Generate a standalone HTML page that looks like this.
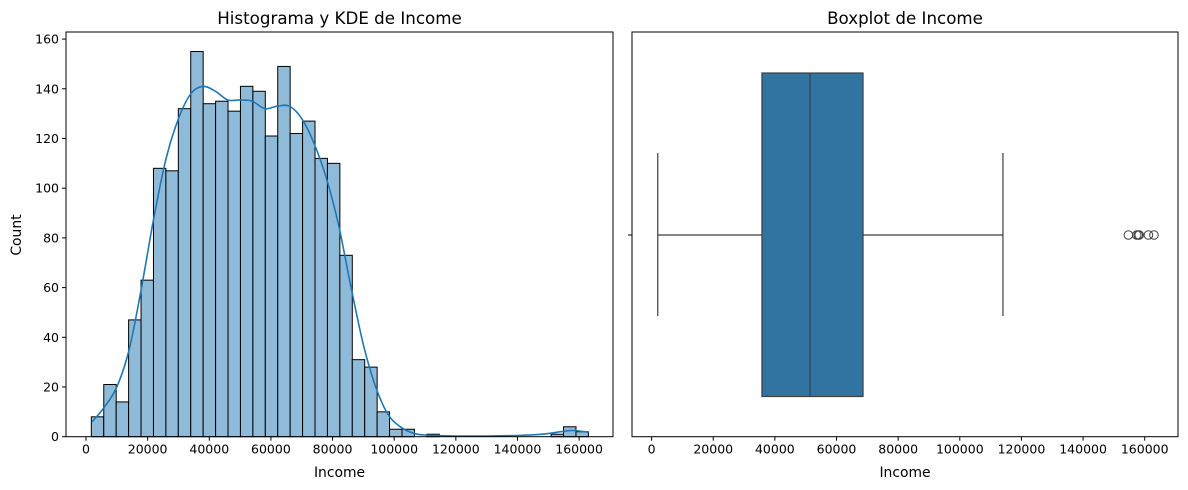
<!DOCTYPE html>
<html><head><meta charset="utf-8"><style>
body{margin:0;background:#fff;}
svg{display:block;font-family:"DejaVu Sans","Liberation Sans",sans-serif;}
</style></head><body>
<svg id="fig" width="1188" height="490" viewBox="0 0 1188 490"></svg>
<script>
const histCounts=[8,21,14,47,63,108,107,132,155,134,135,131,141,139,121,149,122,127,112,110,73,31,28,10,3,3,0,1,0,0,0,0,0,0,0,0,0,1,4,2];
const binStart=1730;
const binWidth=4032;
const kdeX=[2000,6000,10000,14000,18000,22000,26000,30000,34000,38000,42000,46000,50000,54000,58000,62000,66000,70000,74000,78000,82000,86000,90000,94000,98000,102000,106000,110000,120000,130000,140000,148000,154000,158000,163000];
const kdeY=[6,12,20,35,60,88,112,128,138,141,139,135.5,135.5,135,132,133,133,128,118,104,85,60,37,20,9,4,1.5,0.7,0.3,0.3,0.5,1,2,2.5,1.8];
const xTicks=[0,20000,40000,60000,80000,100000,120000,140000,160000];
const yTicks=[0,20,40,60,80,100,120,140,160];
const boxStats={whiskLo:2000,q1:35800,median:51400,q3:68600,whiskHi:114000};
const outliers=[154700,157400,157900,158200,161200,163000];

const NS="http://www.w3.org/2000/svg";
const svg=document.getElementById('fig');
function mk(tag,attrs,parent,txt){const e=document.createElementNS(NS,tag);for(const k in attrs)e.setAttribute(k,attrs[k]);if(txt!==undefined)e.textContent=txt;(parent||svg).appendChild(e);return e;}
const TF=12.5, LF=13.9, HF=16.7;

// left axes
const L={x0:66,x1:613,y0:32,y1:436.7};
const xL=v=>86+v*0.003082;
const yL=v=>436.7-v*2.485;
const gL=mk('g',{});


histCounts.forEach((c,i)=>{
  if(c<=0)return;
  const a=xL(binStart+i*binWidth),b=xL(binStart+(i+1)*binWidth);
  const r=mk('rect',{x:a,y:yL(c),width:b-a,height:yL(0)-yL(c),fill:'#8fbbd9',stroke:'#000','stroke-width':1},gL);
  
  
});
// smooth Catmull-Rom path
const pts=kdeX.map((x,i)=>[xL(x),yL(kdeY[i])]);
let d='M'+pts[0][0].toFixed(1)+','+pts[0][1].toFixed(1);
for(let i=0;i<pts.length-1;i++){
  const p0=pts[Math.max(0,i-1)],p1=pts[i],p2=pts[i+1],p3=pts[Math.min(pts.length-1,i+2)];
  const c1=[p1[0]+(p2[0]-p0[0])/6,p1[1]+(p2[1]-p0[1])/6];
  const c2=[p2[0]-(p3[0]-p1[0])/6,p2[1]-(p3[1]-p1[1])/6];
  d+='C'+c1[0].toFixed(1)+','+c1[1].toFixed(1)+' '+c2[0].toFixed(1)+','+c2[1].toFixed(1)+' '+p2[0].toFixed(1)+','+p2[1].toFixed(1);
}
const kp=mk('path',{d:d,fill:'none',stroke:'#1f77b4','stroke-width':1.6,'stroke-linejoin':'round'},gL);


mk('rect',{x:L.x0,y:L.y0,width:L.x1-L.x0,height:L.y1-L.y0,fill:'none',stroke:'#000','stroke-width':1},gL);
xTicks.forEach(t=>{const x=xL(t);mk('line',{x1:x,x2:x,y1:L.y1,y2:L.y1+4,stroke:'#000'},gL);
  const tx=mk('text',{x:x,y:L.y1+17,'font-size':TF,'text-anchor':'middle',fill:'#000'},gL,String(t));
  });
yTicks.forEach(t=>{const y=yL(t);mk('line',{x1:L.x0-4,x2:L.x0,y1:y,y2:y,stroke:'#000'},gL);
  const tx=mk('text',{x:L.x0-7,y:y+4.5,'font-size':TF,'text-anchor':'end',fill:'#000'},gL,String(t));
  });
const t1=mk('text',{x:339.5,y:24,'font-size':HF,'text-anchor':'middle'},gL,'Histograma y KDE de Income');

const xl1=mk('text',{x:339.5,y:477,'font-size':LF,'text-anchor':'middle'},gL,'Income');

const yl1=mk('text',{x:21,y:235,'font-size':LF,'text-anchor':'middle',transform:'rotate(-90 21 235)'},gL,'Count');


// right axes
const R={x0:632,x1:1178,y0:32,y1:436.7};
const xR=v=>651.6+v*0.003082;
const gR=mk('g',{});


const cy=235,bt=73,bb=396.5,ct=153,cb=316;
const st={stroke:'#3f3f3f','stroke-width':1.2};
mk('line',Object.assign({x1:xR(boxStats.whiskLo),x2:xR(boxStats.q1),y1:cy,y2:cy},st),gR);
mk('line',Object.assign({x1:xR(boxStats.q3),x2:xR(boxStats.whiskHi),y1:cy,y2:cy},st),gR);
mk('line',Object.assign({x1:xR(boxStats.whiskLo),x2:xR(boxStats.whiskLo),y1:ct,y2:cb},st),gR);
mk('line',Object.assign({x1:xR(boxStats.whiskHi),x2:xR(boxStats.whiskHi),y1:ct,y2:cb},st),gR);
const bx=mk('rect',Object.assign({x:xR(boxStats.q1),y:bt,width:xR(boxStats.q3)-xR(boxStats.q1),height:bb-bt,fill:'#3274a1'},st),gR);

mk('line',Object.assign({x1:xR(boxStats.median),x2:xR(boxStats.median),y1:bt,y2:bb},st),gR);
outliers.forEach(o=>{const c=mk('circle',{cx:xR(o),cy:cy,r:4.3,fill:'none',stroke:'#3f3f3f','stroke-width':1},gR);
  });
mk('rect',{x:R.x0,y:R.y0,width:R.x1-R.x0,height:R.y1-R.y0,fill:'none',stroke:'#000','stroke-width':1},gR);
mk('line',{x1:R.x0-4,x2:R.x0,y1:cy,y2:cy,stroke:'#000'},gR);
xTicks.forEach(t=>{const x=xR(t);mk('line',{x1:x,x2:x,y1:R.y1,y2:R.y1+4,stroke:'#000'},gR);
  const tx=mk('text',{x:x,y:R.y1+17,'font-size':TF,'text-anchor':'middle',fill:'#000'},gR,String(t));
  });
const t2=mk('text',{x:905,y:24,'font-size':HF,'text-anchor':'middle'},gR,'Boxplot de Income');

const xl2=mk('text',{x:905,y:477,'font-size':LF,'text-anchor':'middle'},gR,'Income');

</script>
</body></html>
